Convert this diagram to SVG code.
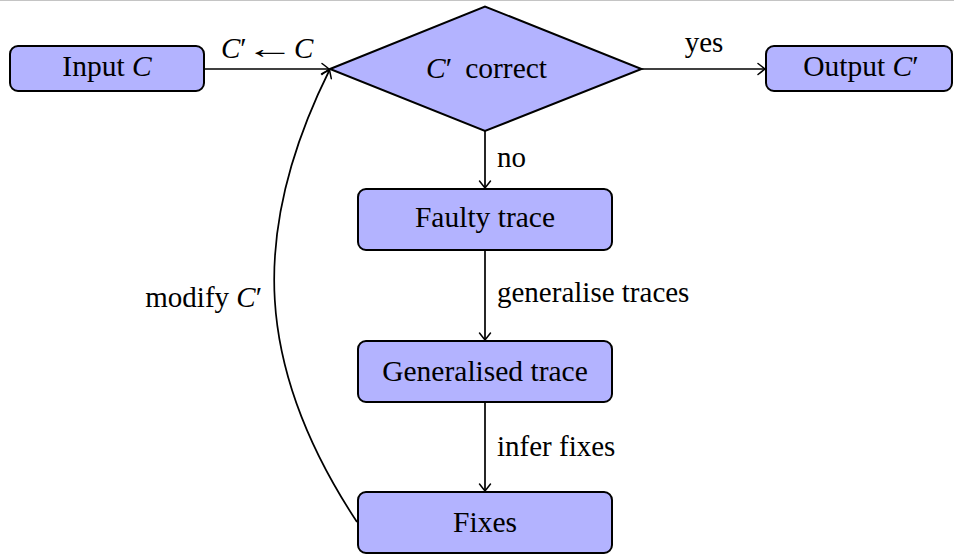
<svg xmlns="http://www.w3.org/2000/svg" width="954" height="558" viewBox="0 0 954 558">
  <defs>
    <marker id="tip" markerUnits="userSpaceOnUse" markerWidth="16" markerHeight="16" viewBox="-10 -8 12 16" refX="0" refY="0" orient="auto">
      <path d="M -7 -5.5 Q -2 -1.6 0 0 Q -2 1.6 -7 5.5" fill="none" stroke="#000" stroke-width="1.5" stroke-linecap="round"/>
    </marker>
  </defs>
  <style>
    text { font-family: "Liberation Serif", "Times New Roman", serif; font-size: 29.5px; fill: #000; }
    .lbl { font-size: 29px; }
    .c { text-anchor: middle; }
    .m { font-style: italic; }
    .box { fill: #b3b3ff; stroke: #000; stroke-width: 2; }
    .edge { fill: none; stroke: #000; stroke-width: 1.7; marker-end: url(#tip); }
  </style>
  <rect width="954" height="558" fill="#fff"/>
  <line x1="0" y1="0.5" x2="954" y2="0.5" stroke="#c4c4c4" stroke-width="1.2"/>

  <g id="connectors">
    <path class="edge" d="M 205 69 L 329 69"/>
    <path class="edge" d="M 642 69 L 765 69"/>
    <path class="edge" d="M 485 131 L 485 188"/>
    <path class="edge" d="M 485 251 L 485 340"/>
    <path class="edge" d="M 485 403 L 485 491"/>
    <path class="edge" d="M 357 522 C 256 369 248 234 329.5 70"/>
    <!-- edge label C' <- C, the arrow stretched to math width -->
    <text class="lbl m" x="221" y="58">C<tspan font-style="normal">′</tspan></text>
    <text class="lbl c" transform="translate(270,58) scale(1.7,1)">←</text>
    <text class="lbl m" x="294" y="58">C</text>
    <text class="lbl c" x="704" y="52">yes</text>
    <text class="lbl" x="497" y="167">no</text>
    <text class="lbl" x="497" y="302">generalise traces</text>
    <text class="lbl" x="497" y="456">infer fixes</text>
    <text class="lbl" x="262" y="307" text-anchor="end">modify <tspan class="m">C</tspan>′</text>
  </g>

  <g id="input">
    <rect class="box" x="10" y="46" width="194" height="45" rx="8"/>
    <text x="107" y="76" class="c">Input <tspan class="m">C</tspan></text>
  </g>
  <g id="check">
    <polygon class="box" points="330,69 485,6.5 641.5,69 485,131"/>
    <text x="426" y="78"><tspan class="m">C</tspan>′<tspan dx="13">correct</tspan></text>
  </g>
  <g id="output">
    <rect class="box" x="766" y="46" width="186" height="45" rx="8"/>
    <text x="861" y="76" class="c">Output <tspan class="m">C</tspan>′</text>
  </g>
  <g id="faulty">
    <rect class="box" x="358" y="189" width="254" height="61" rx="8"/>
    <text x="485" y="227" class="c">Faulty trace</text>
  </g>
  <g id="generalised">
    <rect class="box" x="358" y="341" width="254" height="61" rx="8"/>
    <text x="485" y="381" class="c">Generalised trace</text>
  </g>
  <g id="fixes">
    <rect class="box" x="358" y="492" width="254" height="61" rx="8"/>
    <text x="485" y="532" class="c">Fixes</text>
  </g>
</svg>
